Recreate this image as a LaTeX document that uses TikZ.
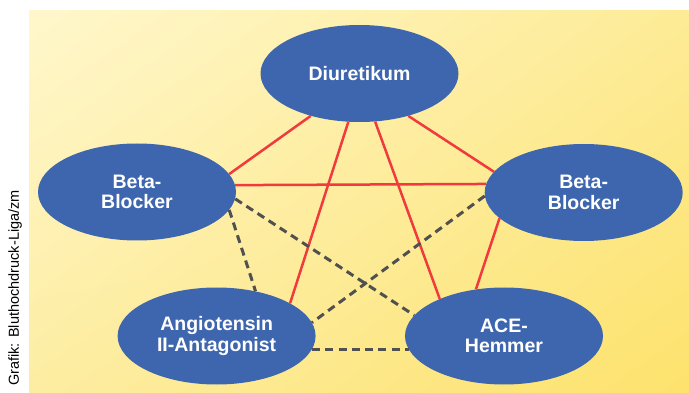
\documentclass[tikz,border=0pt]{standalone}
\usepackage{fontspec}
\setmainfont{Liberation Sans}
\usetikzlibrary{shapes.geometric,shadings}
\definecolor{nodeblue}{RGB}{62,102,174}
\definecolor{linered}{RGB}{240,58,62}
\definecolor{dashgray}{RGB}{80,80,80}
\definecolor{bgUL}{RGB}{255,247,204}
\definecolor{bgUR}{RGB}{253,235,150}
\definecolor{bgLL}{RGB}{253,237,162}
\definecolor{bgLR}{RGB}{253,226,108}
\tikzset{
  drug/.style={ellipse, fill=nodeblue, draw=none, minimum width=198pt, minimum height=97pt,
    inner sep=0pt, text=white, align=center, font=\fontsize{19.5}{20.5}\selectfont\bfseries},
  comb/.style={draw=linered, line width=2.5pt},
  weak/.style={draw=dashgray, line width=3pt, dash pattern=on 8pt off 5.3pt},
}
\begin{document}
\begin{tikzpicture}[x=1pt,y=-1pt]
\useasboundingbox (0,0) rectangle (689,393);
\clip (0,0) rectangle (689,393);
\fill[white] (0,0) rectangle (689,393);
\shade[upper left=bgUL, upper right=bgUR, lower left=bgLL, lower right=bgLR] (29,11) rectangle (689,393);
\node[anchor=base east, rotate=90, inner sep=0pt, font=\fontsize{14.5}{14.5}\selectfont] (credit) at (19,190) {Grafik: Bluthochdruck-Liga/zm};
\node[drug] (diu) at (359.5,73.5) {Diuretikum};
\node[drug] (bbl) at (137,192) {Beta-\\Blocker};
\node[drug] (bbr) at (583.7,192.5) {Beta-\\Blocker};
\node[drug] (ang) at (216.6,336) {Angiotensin\\II-Antagonist};
\node[drug] (ace) at (504,336) {ACE-\\Hemmer};
% red combinations
\draw[comb] (diu.221.2) -- (bbl.11.1);
\draw[comb] (diu.257.8) -- (ang.24.8);
\draw[comb] (diu.288.5) -- (ace.150.7);
\draw[comb] (diu.319.1) -- (bbr.167.1);
\draw[comb] (bbl.4.6) -- (bbr.175.1);
\draw[comb] (bbr.197.1) -- (ace.121.7);
% dashed combinations
\draw[weak] (bbl.-11.9) -- (ang.49.4);
\draw[weak] (bbl.-4.6) -- (ace.167);
\draw[weak] (bbr.182.6) -- (ang.8.1);
\draw[weak] (ang.-8.1) -- (ace.188.3);
\end{tikzpicture}
\end{document}
